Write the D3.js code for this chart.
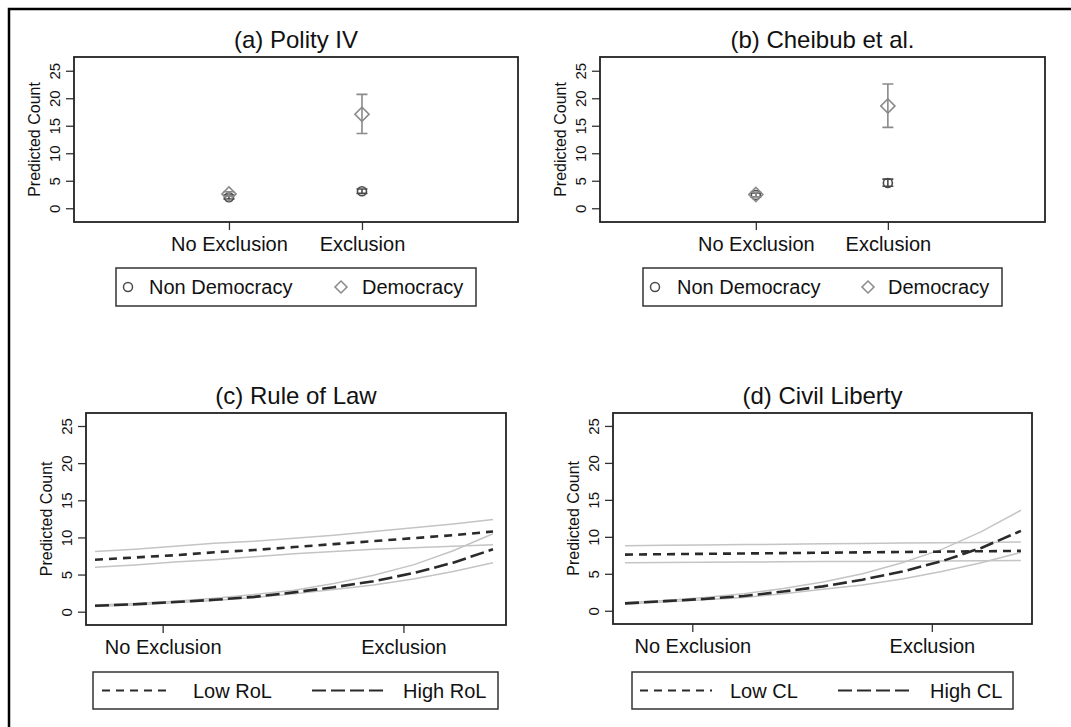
<!DOCTYPE html>
<html>
<head>
<meta charset="utf-8">
<script src="https://cdn.jsdelivr.net/npm/d3@7"></script>
<style>
  body { margin: 0; background: #fff; }
  svg { font-family: "Liberation Sans", Arial, sans-serif; }
</style>
</head>
<body>
<div id="container"></div>
<script>
// ---- data ----
let categories = ["No Exclusion", "Exclusion"]
let yTicks = [0, 5, 10, 15, 20, 25]

// [estimate, lower, upper] per category
let polityNonDem = [[2.0, 1.7, 2.4], [3.1, 2.7, 3.5]]
let polityDem = [[2.6, 2.2, 3.0], [17.1, 13.6, 20.7]]
let cheibubNonDem = [[2.4, 2.1, 2.8], [4.6, 4.0, 5.3]]
let cheibubDem = [[2.5, 2.1, 2.9], [18.6, 14.7, 22.6]]

// continuous exclusion scale for (c) and (d)
let exclGrid = [0, 0.1, 0.2, 0.3, 0.4, 0.5, 0.6, 0.7, 0.8, 0.9, 1.0]
let exclTicks = [0.17, 0.775]

let lowRoL = [7.0, 7.3, 7.6, 8.0, 8.3, 8.7, 9.1, 9.5, 9.9, 10.3, 10.8]
let lowRoLHi = [8.1, 8.4, 8.8, 9.2, 9.5, 9.9, 10.3, 10.8, 11.3, 11.8, 12.4]
let lowRoLLo = [6.0, 6.3, 6.7, 7.0, 7.4, 7.8, 8.1, 8.4, 8.6, 8.8, 9.0]
let highRoL = [0.8, 1.0, 1.3, 1.6, 2.0, 2.6, 3.3, 4.1, 5.2, 6.6, 8.4]
let highRoLHi = [0.9, 1.1, 1.4, 1.8, 2.3, 2.9, 3.8, 4.9, 6.3, 8.2, 10.5]
let highRoLLo = [0.7, 0.9, 1.2, 1.5, 1.9, 2.4, 3.0, 3.6, 4.4, 5.4, 6.6]

let lowCL = [7.6, 7.65, 7.7, 7.75, 7.8, 7.85, 7.9, 7.95, 8.0, 8.05, 8.1]
let lowCLHi = [8.8, 8.85, 8.9, 8.95, 9.0, 9.05, 9.1, 9.15, 9.2, 9.25, 9.3]
let lowCLLo = [6.5, 6.53, 6.56, 6.59, 6.62, 6.65, 6.68, 6.71, 6.74, 6.77, 6.8]
let highCL = [1.0, 1.3, 1.6, 2.0, 2.6, 3.3, 4.2, 5.3, 6.7, 8.5, 10.8]
let highCLHi = [1.1, 1.4, 1.8, 2.3, 3.0, 3.9, 5.0, 6.5, 8.3, 10.7, 13.6]
let highCLLo = [0.9, 1.2, 1.5, 1.8, 2.3, 2.9, 3.5, 4.3, 5.3, 6.5, 7.9]

// ---- layout ----
let width = 1071
let height = 727
let font = 15

let svg = d3.select("#container")
    .append("svg")
    .attr("width", width)
    .attr("height", height)

// outer frame (top and left edges visible)
svg.append("path")
    .attr("d", `M9,${height} L9,9 L${width},9`)
    .attr("fill", "none")
    .attr("stroke", "#000")
    .attr("stroke-width", 2.5)

let pointPanels = [
    {title: "(a) Polity IV", box: [74, 518, 57, 222], xdom: [-1.165, 2.173], ydom: [-2.5, 27.5],
     nonDem: polityNonDem, dem: polityDem, legend: [116, 476, 268, 306, 128, 149, 341, 362]},
    {title: "(b) Cheibub et al.", box: [600, 1045, 57, 222], xdom: [-1.18, 2.19], ydom: [-2.5, 27.5],
     nonDem: cheibubNonDem, dem: cheibubDem, legend: [643, 1002, 268, 306, 655, 677, 868, 888]}
]

let linePanels = [
    {title: "(c) Rule of Law", box: [86, 506, 413, 625], xdom: [-0.0226, 1.0327], ydom: [-1.79, 26.75],
     low: [lowRoL, lowRoLLo, lowRoLHi], high: [highRoL, highRoLLo, highRoLHi],
     names: ["Low RoL", "High RoL"], legend: [93, 498, 672, 709, 102, 172, 193, 312, 387, 403]},
    {title: "(d) Civil Liberty", box: [613, 1032, 413, 624], xdom: [-0.0303, 1.028], ydom: [-1.79, 26.75],
     low: [lowCL, lowCLLo, lowCLHi], high: [highCL, highCLLo, highCLHi],
     names: ["Low CL", "High CL"], legend: [632, 1013, 672, 709, 640, 712, 730, 838, 913, 930]}
]

function frame(p, x, y, tickVals, tickLabels) {
    let [x0, x1, y0, y1] = p.box
    let g = svg.append("g")

    g.append("text")
        .attr("x", (x0 + x1) / 2)
        .attr("y", y0 - 9)
        .attr("text-anchor", "middle")
        .attr("font-size", 24)
        .attr("fill", "#111")
        .text(p.title)

    // y axis, labels parallel to the axis like base R
    g.append("g")
        .attr("transform", `translate(${x0},0)`)
        .call(d3.axisLeft(y).tickValues(yTicks).tickSize(8).tickSizeOuter(0))
        .call(a => a.select(".domain").remove())
        .call(a => a.selectAll("line").attr("stroke", "#333").attr("stroke-width", 1.3))
        .call(a => a.selectAll("text")
            .attr("transform", "rotate(-90)")
            .attr("x", 0).attr("y", -14).attr("dy", 0)
            .attr("text-anchor", "middle")
            .attr("font-size", font)
            .attr("fill", "#111"))

    g.append("g")
        .attr("transform", `translate(0,${y1})`)
        .call(d3.axisBottom(x).tickValues(tickVals).tickFormat((d, i) => tickLabels[i]).tickSize(8).tickSizeOuter(0))
        .call(a => a.select(".domain").remove())
        .call(a => a.selectAll("line").attr("stroke", "#333").attr("stroke-width", 1.3))
        .call(a => a.selectAll("text")
            .attr("y", 29).attr("dy", 0)
            .attr("font-size", 20)
            .attr("fill", "#111"))

    g.append("text")
        .attr("transform", `translate(${x0 - 34},${(y(0) + y(25)) / 2}) rotate(-90)`)
        .attr("text-anchor", "middle")
        .attr("font-size", 16)
        .attr("fill", "#111")
        .text("Predicted Count")

    g.append("rect")
        .attr("x", x0).attr("y", y0)
        .attr("width", x1 - x0).attr("height", y1 - y0)
        .attr("fill", "none")
        .attr("stroke", "#222")
        .attr("stroke-width", 1.8)
    return g
}

function legendBox(g, l) {
    g.append("rect")
        .attr("x", l[0]).attr("y", l[2])
        .attr("width", l[1] - l[0]).attr("height", l[3] - l[2])
        .attr("fill", "none")
        .attr("stroke", "#333")
        .attr("stroke-width", 1.5)
}

let diamond = d3.symbol(d3.symbolSquare, 100)
let nonDemColor = "#4a4a4a"
let demColor = "#8a8a8a"

pointPanels.forEach(p => {
    let x = d3.scaleLinear().domain(p.xdom).range([p.box[0], p.box[1]])
    let y = d3.scaleLinear().domain(p.ydom).range([p.box[3], p.box[2]])
    let g = frame(p, x, y, [0, 1], categories)

    let series = [
        {data: p.nonDem, color: nonDemColor, shape: "circle"},
        {data: p.dem, color: demColor, shape: "diamond"}
    ]
    series.forEach(s => {
        let eg = g.append("g")
            .attr("stroke", s.color)
            .attr("fill", "none")
            .attr("stroke-width", 1.6)
        eg.selectAll("path.err")
            .data(s.data)
            .join("path")
            .attr("class", "err")
            .attr("d", (d, i) => {
                let cx = x(i), lo = y(d[1]), hi = y(d[2])
                return `M${cx - 5.5},${lo}H${cx + 5.5}M${cx},${lo}V${hi}M${cx - 5.5},${hi}H${cx + 5.5}`
            })
        if (s.shape === "circle") {
            eg.selectAll("circle")
                .data(s.data)
                .join("circle")
                .attr("cx", (d, i) => x(i))
                .attr("cy", d => y(d[0]))
                .attr("r", 4.5)
        } else {
            eg.selectAll("path.pt")
                .data(s.data)
                .join("path")
                .attr("class", "pt")
                .attr("d", diamond)
                .attr("transform", (d, i) => `translate(${x(i)},${y(d[0])}) rotate(45)`)
        }
    })

    let l = p.legend
    let cy = (l[2] + l[3]) / 2
    legendBox(g, l)
    g.append("circle")
        .attr("cx", l[4]).attr("cy", cy).attr("r", 4.5)
        .attr("fill", "none").attr("stroke", nonDemColor).attr("stroke-width", 1.5)
    g.append("path")
        .attr("d", d3.symbol(d3.symbolSquare, 72))
        .attr("transform", `translate(${l[6]},${cy}) rotate(45)`)
        .attr("fill", "none").attr("stroke", demColor).attr("stroke-width", 1.5)
    g.append("text").attr("x", l[5]).attr("y", cy + 7).attr("font-size", 20).attr("fill", "#111").text("Non Democracy")
    g.append("text").attr("x", l[7]).attr("y", cy + 7).attr("font-size", 20).attr("fill", "#111").text("Democracy")
})

linePanels.forEach(p => {
    let x = d3.scaleLinear().domain(p.xdom).range([p.box[0], p.box[1]])
    let y = d3.scaleLinear().domain(p.ydom).range([p.box[3], p.box[2]])
    let g = frame(p, x, y, exclTicks, categories)

    let line = d3.line()
        .x((d, i) => x(exclGrid[i]))
        .y(d => y(d))

    let bands = [p.low[1], p.low[2], p.high[1], p.high[2]]
    g.append("g")
        .selectAll("path")
        .data(bands)
        .join("path")
        .attr("d", line)
        .attr("fill", "none")
        .attr("stroke", "#c4c4c4")
        .attr("stroke-width", 1.5)

    let dashes = ["8,6", "14,5"]
    g.append("g")
        .selectAll("path")
        .data([p.low[0], p.high[0]])
        .join("path")
        .attr("d", line)
        .attr("fill", "none")
        .attr("stroke", "#2a2a2a")
        .attr("stroke-width", 2.6)
        .attr("stroke-dasharray", (d, i) => dashes[i])

    let l = p.legend
    let cy = (l[2] + l[3]) / 2
    legendBox(g, l)
    let samples = [[l[4], l[5], l[6]], [l[7], l[8], l[9]]]
    samples.forEach((s, i) => {
        g.append("line")
            .attr("x1", s[0]).attr("x2", s[1])
            .attr("y1", cy).attr("y2", cy)
            .attr("stroke", "#2a2a2a")
            .attr("stroke-width", 2)
            .attr("stroke-dasharray", dashes[i])
        g.append("text")
            .attr("x", s[2]).attr("y", cy + 7)
            .attr("font-size", 20)
            .attr("fill", "#111")
            .text(p.names[i])
    })
})
</script>
</body>
</html>
